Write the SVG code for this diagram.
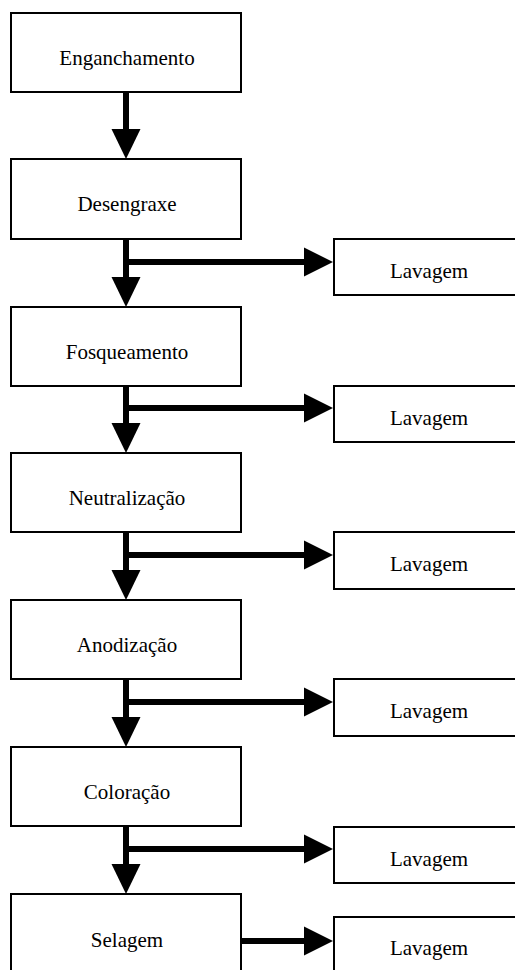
<svg xmlns="http://www.w3.org/2000/svg" width="515" height="970" viewBox="0 0 515 970">
<style>
.box{fill:#fff;stroke:#000;stroke-width:2}
.lbl{font-size:21px;fill:#000;text-anchor:middle}
.shaft{stroke:#000;stroke-width:6;fill:none}
.head{fill:#000}
</style>
<defs>
<path id="ad" d="M-14.5,-30 L14.5,-30 L0,0 Z"/>
<path id="ar" d="M-29,-14.5 L0,0 L-29,14.5 Z"/>
</defs>
<rect width="515" height="970" fill="#fff"/>
<g id="connectors">
<path class="shaft" d="M126,92 V132"/>
<use href="#ad" class="head" x="126" y="159"/>
<path class="shaft" d="M126,239 V280 M123,262 H306"/>
<use href="#ad" class="head" x="126" y="307"/>
<use href="#ar" class="head" x="333" y="262"/>
<path class="shaft" d="M126,386 V426 M123,408 H306"/>
<use href="#ad" class="head" x="126" y="453"/>
<use href="#ar" class="head" x="333" y="408"/>
<path class="shaft" d="M126,532 V573 M123,555 H306"/>
<use href="#ad" class="head" x="126" y="600"/>
<use href="#ar" class="head" x="333" y="555"/>
<path class="shaft" d="M126,679 V720 M123,702 H306"/>
<use href="#ad" class="head" x="126" y="747"/>
<use href="#ar" class="head" x="333" y="702"/>
<path class="shaft" d="M126,826 V867 M123,849 H306"/>
<use href="#ad" class="head" x="126" y="894"/>
<use href="#ar" class="head" x="333" y="849"/>
<path class="shaft" d="M241,941 H306"/>
<use href="#ar" class="head" x="333" y="941"/>
</g>
<g font-family="Liberation Serif, Times New Roman, serif">
<g id="n1"><rect class="box" x="11" y="13" width="230" height="79"/><text class="lbl" x="127" y="65">Enganchamento</text></g>
<g id="n2"><rect class="box" x="11" y="159" width="230" height="80"/><text class="lbl" x="127" y="211">Desengraxe</text></g>
<g id="n3"><rect class="box" x="11" y="307" width="230" height="79"/><text class="lbl" x="127" y="359">Fosqueamento</text></g>
<g id="n4"><rect class="box" x="11" y="453" width="230" height="79"/><text class="lbl" x="127" y="505">Neutralização</text></g>
<g id="n5"><rect class="box" x="11" y="600" width="230" height="79"/><text class="lbl" x="127" y="652">Anodização</text></g>
<g id="n6"><rect class="box" x="11" y="747" width="230" height="79"/><text class="lbl" x="127" y="799">Coloração</text></g>
<g id="n7"><rect class="box" x="11" y="894" width="230" height="90"/><text class="lbl" x="127" y="947">Selagem</text></g>
<g id="l1"><rect class="box" x="334" y="239" width="190" height="56"/><text class="lbl" x="429" y="278">Lavagem</text></g>
<g id="l2"><rect class="box" x="334" y="386" width="190" height="56"/><text class="lbl" x="429" y="425">Lavagem</text></g>
<g id="l3"><rect class="box" x="334" y="532" width="190" height="57"/><text class="lbl" x="429" y="571">Lavagem</text></g>
<g id="l4"><rect class="box" x="334" y="679" width="190" height="57"/><text class="lbl" x="429" y="718">Lavagem</text></g>
<g id="l5"><rect class="box" x="334" y="827" width="190" height="56"/><text class="lbl" x="429" y="866">Lavagem</text></g>
<g id="l6"><rect class="box" x="334" y="917" width="190" height="70"/><text class="lbl" x="429" y="955">Lavagem</text></g>
</g>
</svg>
